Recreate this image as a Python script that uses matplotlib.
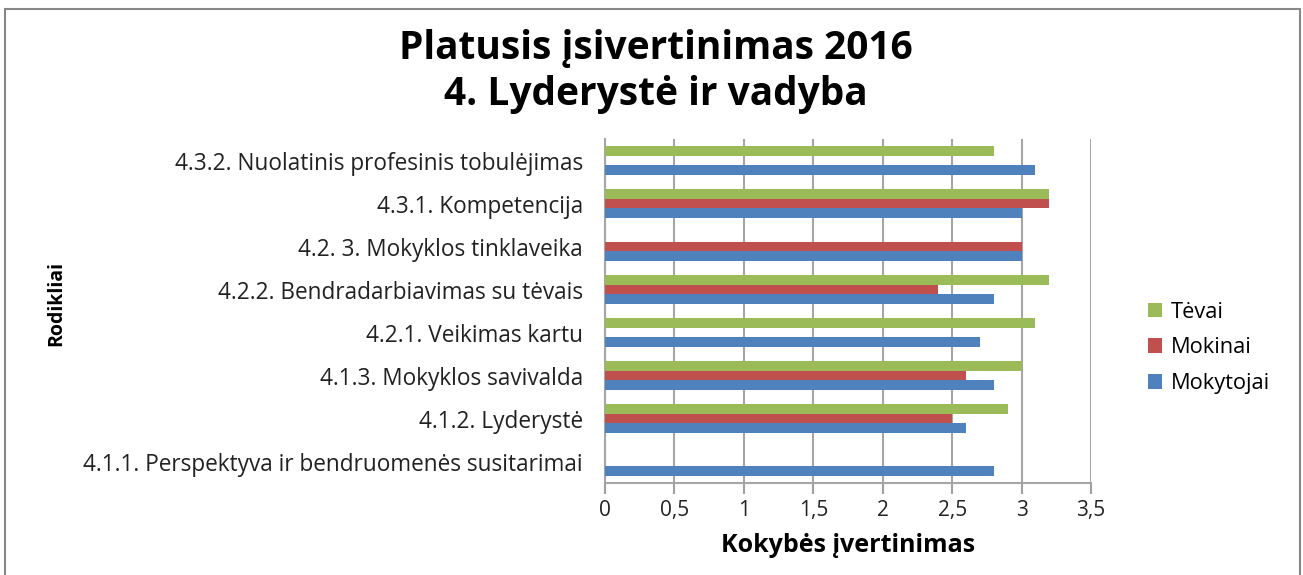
import matplotlib
matplotlib.use('Agg')
import matplotlib.pyplot as plt
from matplotlib.patches import Rectangle
import numpy as np

# Data (bottom to top as drawn)
categories = [
    '4.1.1. Perspektyva ir bendruomenės susitarimai',
    '4.1.2. Lyderystė',
    '4.1.3. Mokyklos savivalda',
    '4.2.1. Veikimas kartu',
    '4.2.2. Bendradarbiavimas su tėvais',
    '4.2. 3. Mokyklos tinklaveika',
    '4.3.1. Kompetencija',
    '4.3.2. Nuolatinis profesinis tobulėjimas',
]
mokytojai = [2.8, 2.6, 2.8, 2.7, 2.8, 3.0, 3.0, 3.1]
mokinai = [0, 2.5, 2.6, 0, 2.4, 3.0, 3.2, 0]
tevai = [0, 2.9, 3.0, 3.1, 3.2, 0, 3.2, 2.8]
x_ticks = [0, 0.5, 1, 1.5, 2, 2.5, 3, 3.5]
x_tick_labels = ['0', '0,5', '1', '1,5', '2', '2,5', '3', '3,5']

c_blue = '#4F81BD'
c_red = '#C0504D'
c_green = '#9BBB59'

plt.rcParams['font.family'] = ['Open Sans', 'DejaVu Sans']

fig = plt.figure(figsize=(13.03, 5.75), dpi=100)
ax = fig.add_axes([0.4643, 0.16, 0.373, 0.598])

y = np.arange(len(categories))
h = 0.22
ax.barh(y - h, mokytojai, height=h, color=c_blue, label='Mokytojai', zorder=3)
ax.barh(y, mokinai, height=h, color=c_red, label='Mokinai', zorder=3)
ax.barh(y + h, tevai, height=h, color=c_green, label='Tėvai', zorder=3)

ax.set_xlim(0, 3.5)
ax.set_ylim(-0.5, len(categories) - 0.5)
ax.set_xticks(x_ticks)
ax.set_xticklabels(x_tick_labels, fontsize=15)
ax.set_yticks(y)
ax.set_yticklabels(categories, fontsize=16.3, color='#222222')
ax.tick_params(axis='x', length=8, width=1.5, color='#a0a0a0', pad=4, labelcolor='#222222')
ax.tick_params(axis='y', length=0, pad=16)
ax.grid(axis='x', color='#a6a6a6', linewidth=1.5, zorder=0)

for s in ['top', 'right']:
    ax.spines[s].set_visible(False)
ax.spines['left'].set_color('#a6a6a6')
ax.spines['bottom'].set_color('#a6a6a6')
ax.spines['left'].set_linewidth(1.5)
ax.spines['bottom'].set_linewidth(1.5)

ax.set_xlabel('Kokybės įvertinimas', fontsize=18, fontweight='bold', labelpad=9)
fig.text(0.043, 0.472, 'Rodikliai', rotation=90, fontsize=14, fontweight='bold',
         ha='center', va='center')

fig.text(0.503, 0.915, 'Platusis įsivertinimas 2016', fontsize=28, fontweight='bold',
         ha='center', va='center')
fig.text(0.503, 0.835, '4. Lyderystė ir vadyba', fontsize=28, fontweight='bold',
         ha='center', va='center')

handles, labels = ax.get_legend_handles_labels()
fig.legend(handles[::-1], labels[::-1], loc='center left', bbox_to_anchor=(0.866, 0.395),
           frameon=False, fontsize=15.7, handlelength=0.65, handleheight=0.65,
           labelspacing=0.68, handletextpad=0.4)

# outer border
fig.patches.append(Rectangle((0.004, -0.02), 0.994, 1.005, transform=fig.transFigure,
                             fill=False, edgecolor='#888888', linewidth=1.5))

fig.savefig('out.png', dpi=100)
